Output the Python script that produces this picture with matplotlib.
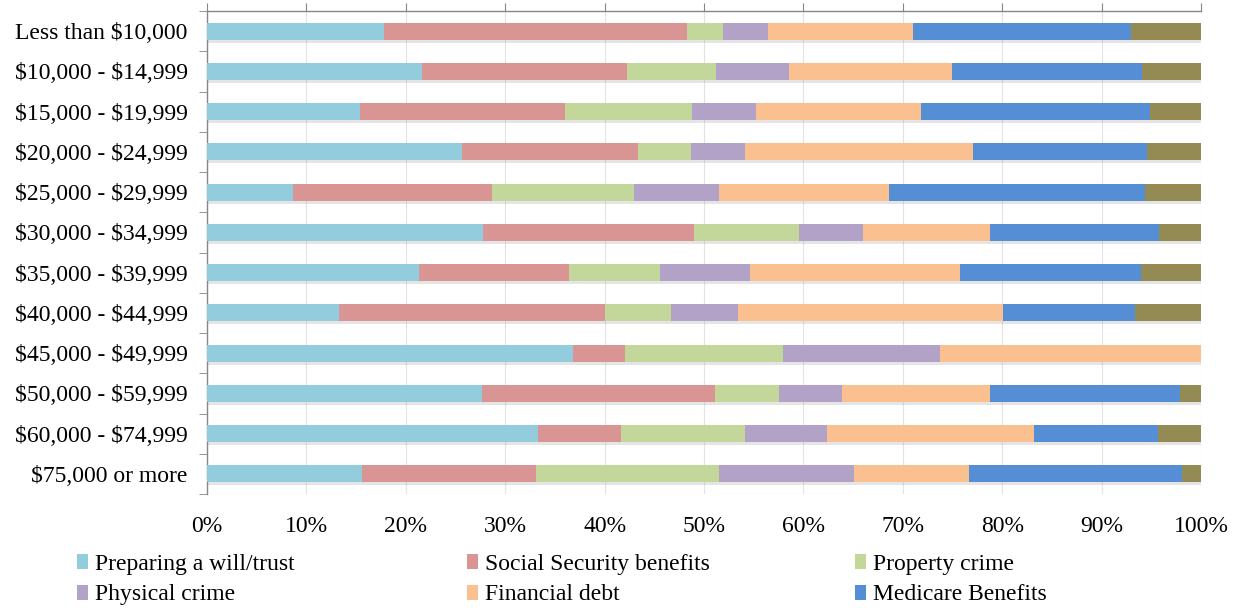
import matplotlib
matplotlib.use('Agg')
import matplotlib.pyplot as plt
import matplotlib.patheffects as pe
from matplotlib.ticker import PercentFormatter, MultipleLocator
import numpy as np

plt.rcParams['font.family'] = ['Liberation Serif', 'DejaVu Serif']
plt.rcParams['text.parse_math'] = False

# income brackets, top to bottom
categories = ['Less than $10,000', '$10,000 - $14,999', '$15,000 - $19,999',
              '$20,000 - $24,999', '$25,000 - $29,999', '$30,000 - $34,999',
              '$35,000 - $39,999', '$40,000 - $44,999', '$45,000 - $49,999',
              '$50,000 - $59,999', '$60,000 - $74,999', '$75,000 or more']

# share of respondents (%) per concern
will_trust   = [17.8, 21.6, 15.4, 25.7,  8.7, 27.8, 21.3, 13.3, 36.8, 27.7, 33.3, 15.6]
social_sec   = [30.5, 20.7, 20.6, 17.7, 20.0, 21.2, 15.1, 26.7,  5.3, 23.4,  8.3, 17.5]
property_cr  = [ 3.6,  8.9, 12.8,  5.3, 14.3, 10.6,  9.2,  6.7, 15.8,  6.4, 12.5, 18.4]
physical_cr  = [ 4.5,  7.4,  6.4,  5.4,  8.5,  6.4,  9.0,  6.7, 15.8,  6.4,  8.3, 13.6]
fin_debt     = [14.6, 16.3, 16.6, 23.0, 17.1, 12.8, 21.2, 26.7, 26.3, 14.9, 20.8, 11.6]
medicare     = [22.0, 19.2, 23.1, 17.5, 25.8, 17.0, 18.2, 13.3,  0.0, 19.1, 12.5, 21.4]
other        = [ 7.0,  5.9,  5.1,  5.4,  5.6,  4.2,  6.0,  6.6,  0.0,  2.1,  4.3,  1.9]

series_names = ['Preparing a will/trust', 'Social Security benefits', 'Property crime',
                'Physical crime', 'Financial debt', 'Medicare Benefits', 'Other']
series = [will_trust, social_sec, property_cr, physical_cr, fin_debt, medicare, other]
colors = ['#93CDDD', '#D99594', '#C4D79B', '#B3A2C7', '#FAC090', '#558ED5', '#948A54']

fs = 17

fig = plt.figure(figsize=(12.41, 6.08), dpi=100)
ax = fig.add_axes([207 / 1241, 1 - 494 / 608, 994 / 1241, 483 / 608])

y = np.arange(len(categories))
left = np.zeros(len(categories))
shadow = [pe.SimplePatchShadow(offset=(0.8, -2.2), shadow_rgbFace='#808080', alpha=0.2), pe.Normal()]
bars = []
for name, vals, col in zip(series_names, series, colors):
    vals = np.array(vals)
    b = ax.barh(y, vals, left=left, height=0.42, color=col, label=name, zorder=3)
    for p in b:
        p.set_path_effects(shadow)
    bars.append(b)
    left += vals

ax.set_xlim(0, 100)
ax.set_ylim(len(categories) - 0.5, -0.5)
ax.xaxis.set_major_locator(MultipleLocator(10))
ax.xaxis.set_major_formatter(PercentFormatter(decimals=0))
ax.grid(axis='x', color='#E3E3E3', linewidth=0.8, zorder=0)

ax.set_yticks(y)
ax.set_yticklabels(categories)
ax.set_yticks(np.arange(-0.5, len(categories)), minor=True)

for s in ['right', 'bottom']:
    ax.spines[s].set_visible(False)
for s in ['top', 'left']:
    ax.spines[s].set_color('#868686')
    ax.spines[s].set_linewidth(1.0)

ax.tick_params(axis='x', top=True, bottom=False, labeltop=False, labelbottom=True,
               direction='out', length=6, color='#868686', pad=10, labelsize=fs)
ax.tick_params(axis='y', which='major', length=0, pad=14, labelsize=fs)
ax.tick_params(axis='y', which='minor', length=6, color='#868686', direction='out')

# legend: three columns placed like the original
col_x = [77, 467, 855]
for i, x0 in enumerate(col_x):
    handles = [bars[i], bars[i + 3]]
    labels = [series_names[i], series_names[i + 3]]
    leg = fig.legend(handles, labels, loc='upper left',
                     bbox_to_anchor=(x0 / 1241, 1 - 554 / 608),
                     frameon=False, fontsize=fs, handlelength=0.45, handleheight=0.6,
                     handletextpad=0.3, labelspacing=0.4, borderpad=0, borderaxespad=0)
    for h in leg.legend_handles:
        h.set_path_effects([])

fig.savefig('out.png', dpi=100)
